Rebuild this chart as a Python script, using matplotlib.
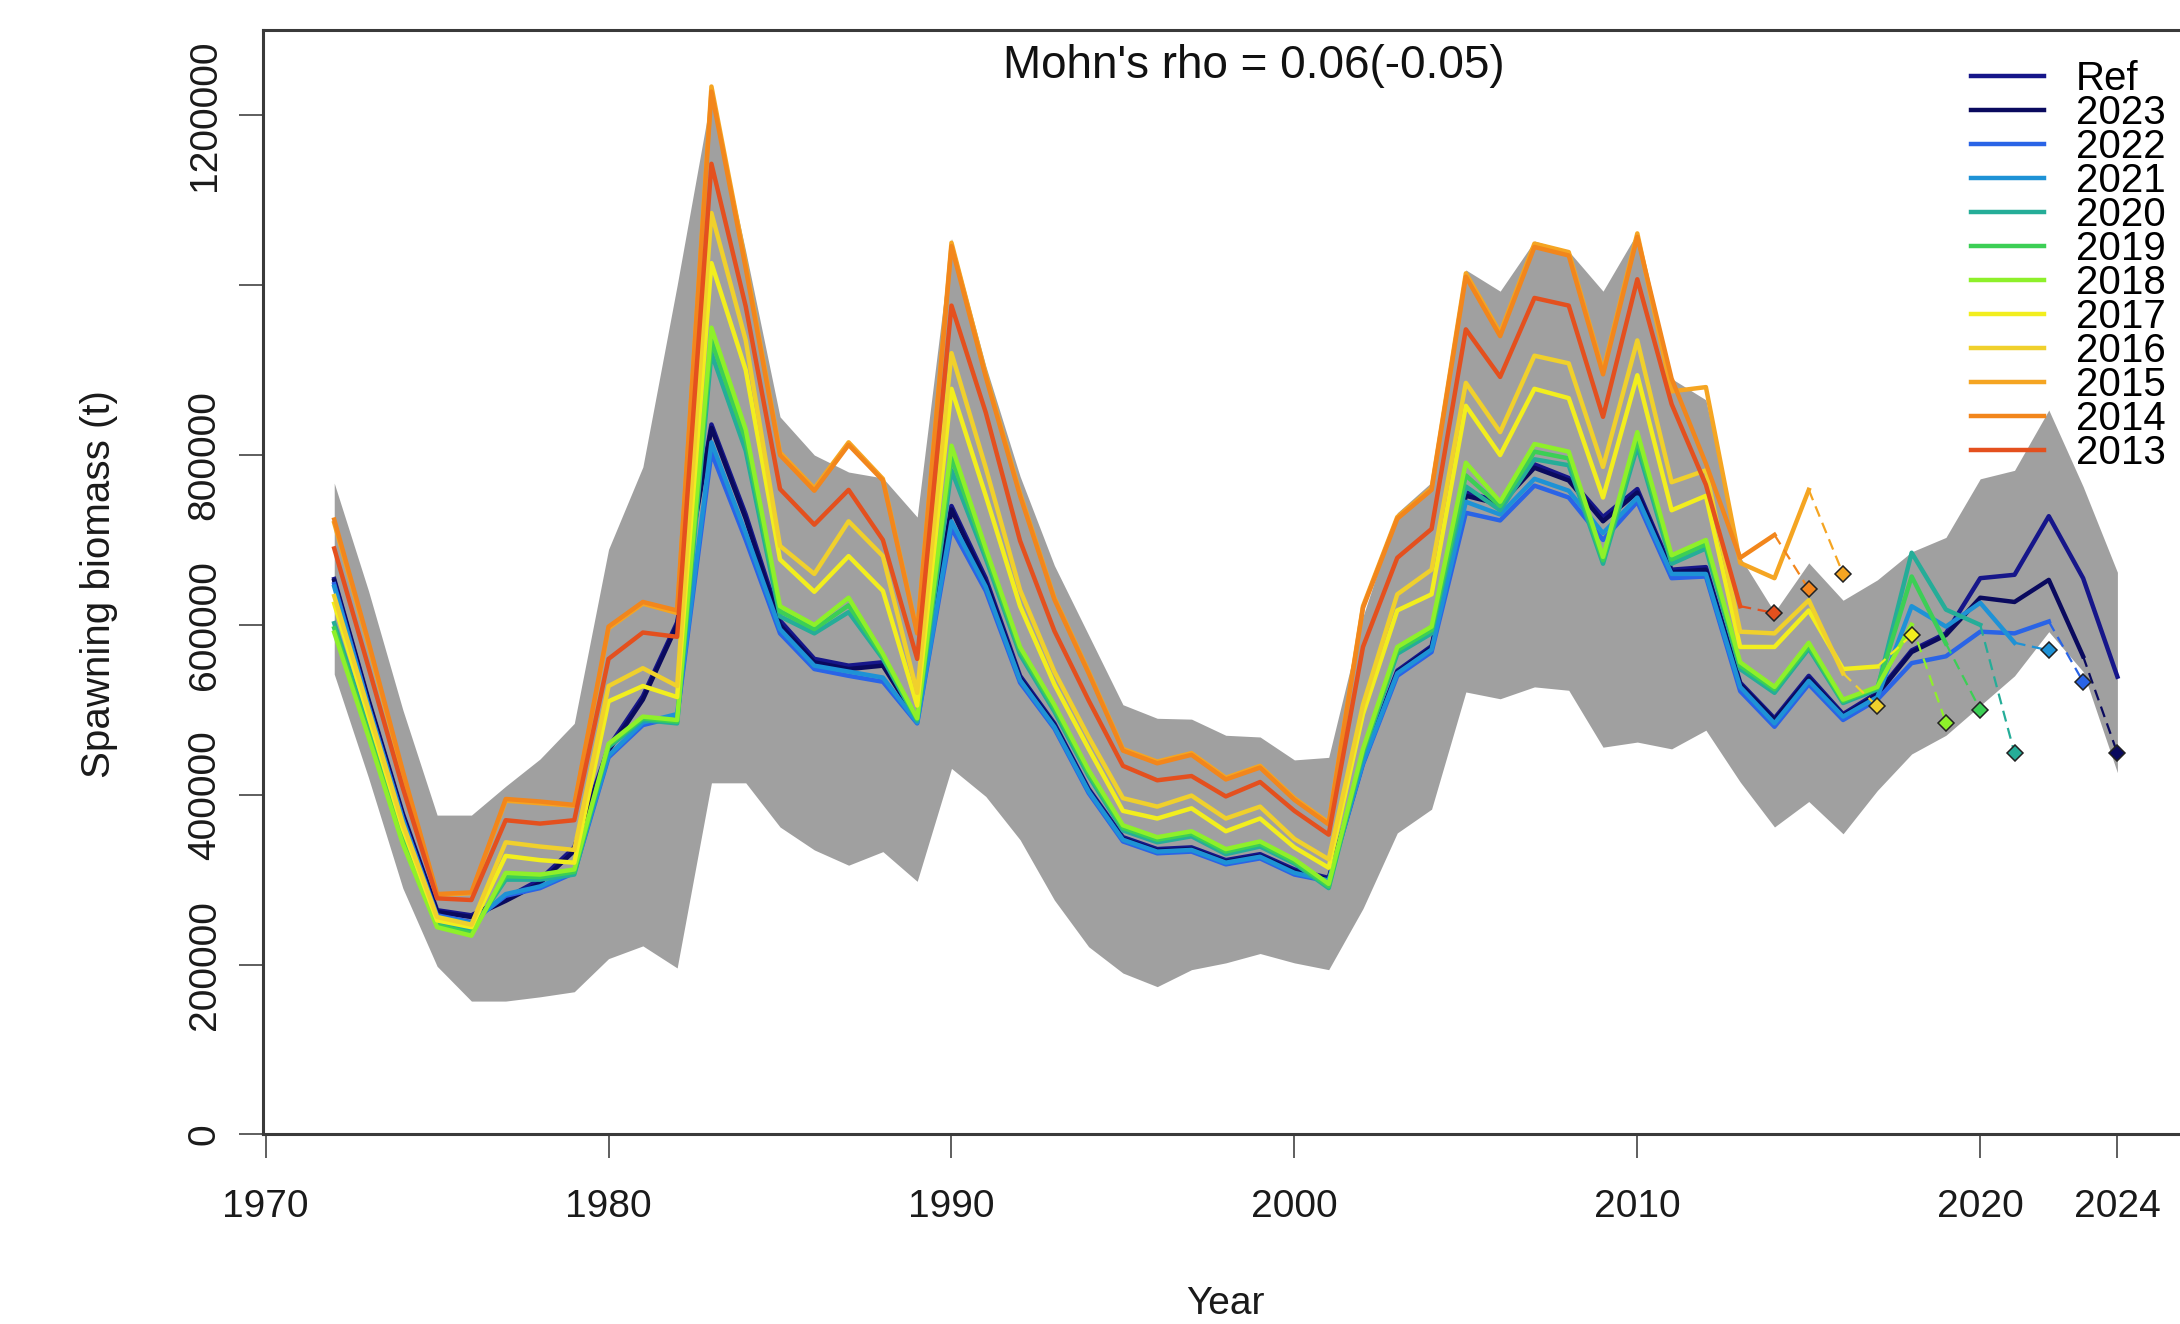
import matplotlib
matplotlib.use('Agg')
import matplotlib.pyplot as plt
import numpy as np

plt.rcParams['font.family'] = ['Liberation Sans', 'DejaVu Sans']

# spawning biomass, thousand tonnes, each series starts in 1972
first_year = 1972

ssb_ref = [654, 512, 378, 264, 258, 278, 300, 338, 456, 516,
           603, 836, 730, 605, 560, 552, 556, 490, 740, 655,
           540, 484, 407, 350, 336, 338, 323, 330, 312, 302,
           440, 546, 575, 756, 745, 789, 773, 727, 760, 665,
           668, 532, 490, 540, 495, 520, 570, 590, 655, 659,
           728, 655, 539]

ci_upper = [767, 640, 500, 376, 376, 410, 442, 484, 689, 786,
            1000, 1225, 1040, 845, 800, 780, 773, 727, 1055, 905,
            775, 670, 588, 506, 490, 489, 470, 468, 441, 444,
            610, 732, 768, 1018, 993, 1052, 1040, 993, 1062, 890,
            865, 680, 615, 673, 629, 653, 686, 703, 772, 782,
            853, 763, 662]

ci_lower = [542, 420, 290, 198, 157, 157, 162, 168, 207, 222,
            196, 414, 414, 362, 335, 317, 333, 298, 431, 398,
            347, 276, 221, 190, 174, 194, 202, 213, 202, 194,
            266, 355, 383, 521, 513, 527, 523, 456, 462, 454,
            476, 415, 362, 392, 354, 405, 448, 470, 505, 540,
            592, 545, 426]

ssb_2023 = [652, 510, 376, 262, 256, 275, 296, 334, 452, 512,
            600, 832, 725, 600, 556, 548, 552, 488, 736, 650,
            537, 482, 405, 348, 334, 336, 321, 328, 310, 300,
            438, 544, 573, 752, 742, 785, 770, 722, 756, 662,
            665, 530, 488, 537, 493, 518, 568, 588, 632, 627,
            653, 563]

ssb_2022 = [648, 505, 372, 258, 250, 281, 290, 308, 444, 482,
            492, 803, 700, 590, 548, 540, 533, 484, 714, 640,
            532, 478, 402, 345, 331, 333, 318, 325, 306, 298,
            436, 540, 568, 732, 723, 764, 750, 700, 745, 655,
            657, 522, 480, 530, 488, 512, 555, 563, 592, 590,
            604]

ssb_2021 = [645, 503, 370, 256, 249, 283, 292, 310, 446, 485,
            495, 815, 708, 595, 552, 545, 538, 485, 722, 645,
            535, 480, 404, 347, 333, 335, 320, 327, 308, 299,
            438, 543, 571, 745, 730, 772, 758, 708, 750, 660,
            660, 527, 484, 534, 492, 515, 622, 598, 626, 579]

ssb_2020 = [602, 478, 350, 248, 240, 300, 300, 306, 456, 488,
            484, 920, 805, 610, 590, 615, 560, 487, 782, 678,
            565, 498, 422, 358, 344, 351, 330, 339, 319, 290,
            448, 566, 590, 763, 735, 795, 788, 672, 810, 672,
            690, 548, 520, 572, 508, 524, 685, 618, 600]

ssb_2019 = [596, 472, 346, 246, 237, 304, 303, 309, 458, 490,
            486, 935, 818, 616, 595, 623, 563, 489, 797, 684,
            570, 502, 425, 361, 347, 354, 333, 342, 321, 292,
            451, 570, 594, 776, 740, 804, 796, 676, 818, 677,
            695, 552, 524, 575, 510, 526, 657, 578]

ssb_2018 = [591, 468, 342, 244, 234, 308, 306, 312, 460, 492,
            488, 950, 830, 622, 600, 632, 566, 490, 811, 690,
            574, 506, 429, 364, 350, 357, 336, 345, 324, 295,
            454, 574, 598, 791, 745, 813, 804, 680, 827, 682,
            700, 556, 527, 579, 512, 527, 600]

ssb_2017 = [625, 492, 360, 252, 244, 328, 323, 320, 510, 528,
            515, 1026, 900, 677, 639, 681, 640, 505, 878, 752,
            622, 530, 454, 381, 372, 384, 357, 372, 338, 314,
            495, 617, 636, 858, 800, 878, 867, 750, 894, 735,
            752, 574, 574, 617, 548, 551]

ssb_2016 = [634, 500, 366, 256, 247, 344, 339, 335, 528, 549,
            528, 1085, 935, 693, 660, 722, 681, 520, 920, 785,
            641, 545, 468, 396, 386, 399, 372, 386, 348, 324,
            506, 636, 665, 885, 827, 917, 908, 786, 935, 768,
            782, 592, 590, 629, 543]

ssb_2015 = [720, 577, 425, 282, 284, 393, 390, 387, 596, 625,
            614, 1234, 1025, 803, 761, 815, 772, 592, 1050, 895,
            755, 632, 545, 454, 439, 449, 420, 434, 396, 367,
            622, 727, 761, 1014, 944, 1049, 1039, 899, 1061, 875,
            880, 673, 655, 759]

ssb_2014 = [724, 580, 428, 283, 285, 395, 392, 388, 598, 627,
            617, 1228, 1020, 800, 758, 812, 770, 590, 1046, 892,
            752, 630, 543, 452, 437, 447, 418, 432, 394, 365,
            620, 725, 759, 1010, 940, 1045, 1035, 895, 1057, 890,
            790, 679, 706]

ssb_2013 = [690, 550, 408, 278, 276, 370, 366, 370, 560, 591,
            586, 1143, 975, 760, 718, 759, 700, 560, 976, 850,
            699, 593, 511, 434, 417, 422, 398, 415, 381, 353,
            574, 679, 713, 948, 892, 985, 976, 845, 1007, 860,
            765, 622]

peel_years = [2023, 2022, 2021, 2020, 2019, 2018, 2017, 2016, 2015, 2014, 2013]
# one-year-ahead forecast of each peel (plotted at peel year + 1)
forecast_ssb = [449, 533, 570, 449, 500, 485, 588, 504, 660, 642, 614]

ref_color = '#16168a'
peel_colors = ['#0a0a5e', '#2a64e6', '#1e92d6', '#25ad98', '#3ccf55',
               '#8ef02a', '#f2ee1e', '#f0d02c', '#f5a522', '#f2861c', '#e4501e']

mohn_text = "Mohn's rho = 0.06(-0.05)"


def main():
    peels = [ssb_2023, ssb_2022, ssb_2021, ssb_2020, ssb_2019, ssb_2018,
             ssb_2017, ssb_2016, ssb_2015, ssb_2014, ssb_2013]

    fig = plt.figure(figsize=(21.8, 13.24), dpi=100)
    ax = fig.add_axes([0.1206, 0.1432, 0.8834, 0.8338])

    yrs = np.arange(first_year, first_year + len(ssb_ref))
    ax.fill_between(yrs, np.array(ci_lower) * 1000, np.array(ci_upper) * 1000,
                    color='#a0a0a0', lw=0, zorder=1)

    handles = []
    h, = ax.plot(yrs, np.array(ssb_ref) * 1000, color=ref_color, lw=3.2,
                 zorder=2, label='Ref')
    handles.append(h)

    for py, vals, col, fc in zip(peel_years, peels, peel_colors, forecast_ssb):
        x = np.arange(first_year, first_year + len(vals))
        h, = ax.plot(x, np.array(vals) * 1000, color=col, lw=3.2, zorder=3,
                     label=str(py))
        handles.append(h)
        ax.plot([py, py + 1], [vals[-1] * 1000, fc * 1000], color=col, lw=1.6,
                ls=(0, (5, 3)), zorder=4)
        ax.plot([py + 1], [fc * 1000], marker='D', ms=8.5, mfc=col, mec='#222222',
                mew=1.1, ls='none', zorder=5)

    ax.set_xlim(1969.92, 2026.08)
    ax.set_ylim(0, 1300000)

    ax.set_xticks([1970, 1980, 1990, 2000, 2010, 2020, 2024])
    ax.set_yticks([0, 200000, 400000, 600000, 800000, 1000000, 1200000])
    ax.set_yticklabels(['0', '200000', '400000', '600000', '800000', '', '1200000'],
                       rotation=90, va='center')
    ax.tick_params(axis='both', length=17, width=1.1, color='#333333',
                   labelsize=28, labelcolor='#1a1a1a')
    ax.tick_params(axis='x', pad=22)
    ax.tick_params(axis='y', pad=12)
    for s in ax.spines.values():
        s.set_linewidth(2.2)
        s.set_color('#3a3a3a')

    ax.text(0.5147, 0.968, mohn_text, transform=ax.transAxes, ha='center',
            va='center', fontsize=33, color='#111111')

    fig.text(0.562, 0.0151, 'Year', ha='center', va='center', fontsize=28,
             color='#1a1a1a')
    fig.text(0.0455, 0.559, 'Spawning biomass (t)', ha='center', va='center',
             rotation=90, fontsize=29, color='#1a1a1a')

    leg = ax.legend(handles=handles, loc='upper left',
                    bbox_to_anchor=(1971 / 2180, 1 - 60 / 1324),
                    bbox_transform=fig.transFigure, frameon=False, fontsize=29,
                    handlelength=1.81, handletextpad=0.79, labelspacing=-0.10,
                    borderpad=0, borderaxespad=0)
    leg.set_zorder(10)

    fig.savefig('out.png', dpi=100)


if __name__ == '__main__':
    main()
